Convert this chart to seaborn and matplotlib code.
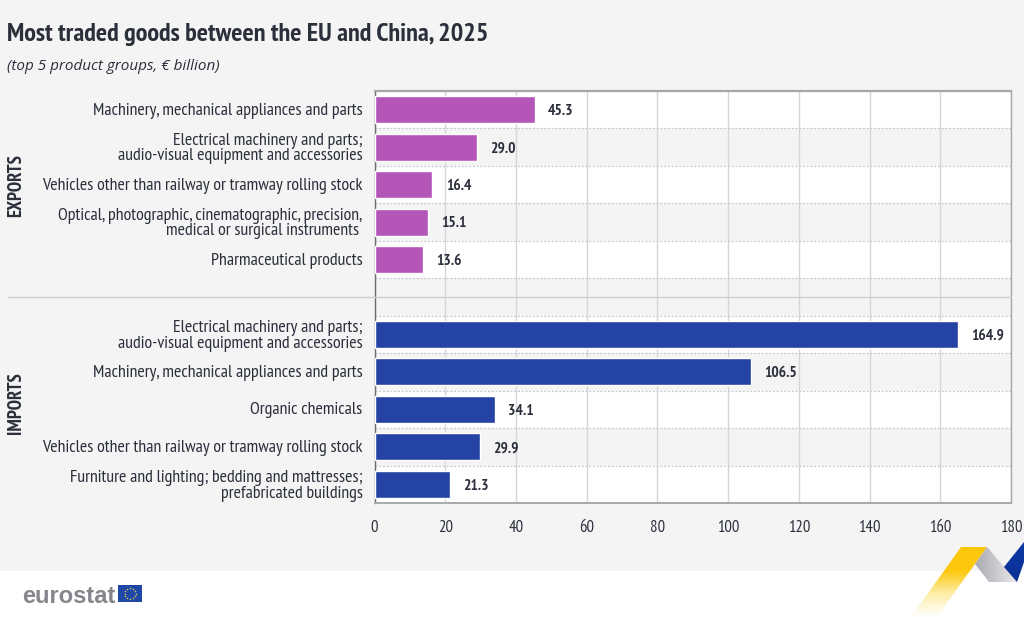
import numpy as np
import pandas as pd
import matplotlib
matplotlib.use('Agg')
import matplotlib.pyplot as plt
from matplotlib import font_manager
from matplotlib.lines import Line2D
from matplotlib.patches import Polygon, Rectangle
from matplotlib.colors import LinearSegmentedColormap
from matplotlib.transforms import ScaledTranslation
import seaborn as sns

# Data
export_labels = ['Machinery, mechanical appliances and parts',
                 'Electrical machinery and parts;\naudio-visual equipment and accessories',
                 'Vehicles other than railway or tramway rolling stock',
                 'Optical, photographic, cinematographic, precision,\nmedical or surgical instruments ',
                 'Pharmaceutical products']
export_values = [45.3, 29.0, 16.4, 15.1, 13.6]
import_labels = ['Electrical machinery and parts;\naudio-visual equipment and accessories',
                 'Machinery, mechanical appliances and parts',
                 'Organic chemicals',
                 'Vehicles other than railway or tramway rolling stock',
                 'Furniture and lighting; bedding and mattresses;\nprefabricated buildings']
import_values = [164.9, 106.5, 34.1, 29.9, 21.3]
x_ticks = [0, 20, 40, 60, 80, 100, 120, 140, 160, 180]

GRIS = '#f4f4f5'
TEXTO = '#2b2f3a'
MORADO = '#b455b8'
AZUL = '#2542a5'

sns.set_theme(style='white')
# Narrow face if there is one, otherwise a plain one set smaller
instaladas = {f.name for f in font_manager.fontManager.ttflist}
ESCALA = 1.0 if 'PT Sans Narrow' in instaladas else 0.8
plt.rcParams['font.family'] = ['PT Sans Narrow', 'Liberation Sans'] if ESCALA == 1.0 else ['Liberation Sans']

# Row 5 stays empty between both blocks
df = pd.DataFrame({
    'row': list(range(5)) + list(range(6, 11)),
    'value': export_values + import_values,
    'flow': ['Exports'] * 5 + ['Imports'] * 5,
})

fig = plt.figure(figsize=(10.24, 6.17), dpi=100, facecolor='white')

# Background and decoration, in pixel coordinates
fondo = fig.add_axes([0, 0, 1, 1], zorder=0)
fondo.set_xlim(0, 1024)
fondo.set_ylim(617, 0)
fondo.axis('off')
fondo.add_patch(Rectangle((0, 0), 1024, 571, color=GRIS, lw=0))


def cinta(puntos, colores, extent, vertical=True):
    # Polygon filled with a gradient
    grad = np.linspace(0, 1, 128).reshape(-1, 1) if vertical else np.linspace(0, 1, 128).reshape(1, -1)
    mapa = LinearSegmentedColormap.from_list('cinta', colores)
    img = fondo.imshow(grad, cmap=mapa, extent=extent, aspect='auto', zorder=2)
    img.set_clip_path(Polygon(puntos, transform=fondo.transData))


cinta([(961, 547), (987, 547), (937, 617), (911, 617)],
      ['#fdc70c', '#fdc70c', '#fdeea8', '#ffffff'], (905, 990, 617, 547))
cinta([(987, 547), (1017, 582), (989, 582), (975, 564)],
      ['#a9a9b0', '#e9e9ec'], (975, 1017, 582, 547), vertical=False)
cinta([(1004, 567), (1024, 542), (1024, 562), (1017, 582)],
      ['#0f3aa8', '#0b2f92'], (1004, 1024, 582, 542))
fondo.set_xlim(0, 1024)
fondo.set_ylim(617, 0)

# Logo
fondo.text(22, 594, 'eurostat', family=['Liberation Sans', 'DejaVu Sans'], weight='bold',
           fontsize=17, color='#85868c', ha='left', va='center_baseline')
fondo.add_patch(Rectangle((118, 585), 24, 17, color='#1f47a6', lw=0, zorder=3))
ang = np.arange(12) * np.pi / 6
fondo.scatter(130 + 5.5 * np.cos(ang), 593.5 + 5.5 * np.sin(ang), s=1.2, color='#d8cf60', lw=0, zorder=4)

# Main chart
ax = fig.add_axes([374.5 / 1024, 1 - 503 / 617, (1011 - 374.5) / 1024, 412 / 617],
                  zorder=1, facecolor='white')
for fila in range(1, 11, 2):
    ax.axhspan(fila - 0.5, fila + 0.5, color=GRIS, lw=0, zorder=0)

sns.barplot(data=df, x='value', y='row', hue='flow', order=list(range(11)), orient='h',
            dodge=False, width=0.72, palette={'Exports': MORADO, 'Imports': AZUL},
            legend=False, saturation=1, zorder=3, ax=ax)

ax.set_xlim(0, 180)
ax.set_ylim(10.5, -0.5)
ax.set_xlabel('')
ax.set_ylabel('')
ax.set_xticks(x_ticks)
ax.set_axisbelow(True)
ax.grid(axis='x', color='#d6d6d8', lw=1, zorder=1)
ax.tick_params(axis='x', length=0, pad=12, labelsize=12 * ESCALA, labelcolor=TEXTO)

# Category labels on major ticks, row boundaries on minor ticks
ax.set_yticks([0, 1, 2, 3, 4, 6, 7, 8, 9, 10])
ax.set_yticklabels(export_labels + import_labels, linespacing=0.94)
ax.set_yticks(np.arange(-0.5, 11), minor=True)
ax.tick_params(axis='y', which='major', length=0, pad=8.5, labelsize=12.9 * ESCALA, labelcolor=TEXTO)
ax.tick_params(axis='y', which='minor', length=8, width=1, color='#8d8d90')
ax.grid(axis='y', which='minor', color='#c8c8cc', lw=0.9, ls=(0, (1.5, 1.5)), zorder=1)
ax.grid(axis='y', which='major', visible=False)

# Single line labels sit a little higher
for etiqueta in ax.get_yticklabels():
    if '\n' not in etiqueta.get_text():
        etiqueta.set_transform(etiqueta.get_transform() + ScaledTranslation(0, 1 / 100, fig.dpi_scale_trans))

for lado in ['top', 'right', 'bottom']:
    ax.spines[lado].set_color('#a8a8aa')
ax.spines['top'].set_linewidth(1.6)
ax.spines['right'].set_linewidth(1)
ax.spines['bottom'].set_linewidth(1.4)
ax.spines['left'].set_color('#6d6d70')
ax.spines['left'].set_linewidth(1)

# Value labels
for fila, valor in zip(df['row'], df['value']):
    ax.annotate(f'{valor:.1f}', (valor, fila), xytext=(9.5, -1), textcoords='offset points',
                ha='left', va='center', fontsize=11.2 * ESCALA, weight='bold', color=TEXTO, zorder=5)

# Separator between the two blocks
fig.add_artist(Line2D([8 / 1024, 1011 / 1024], [1 - 297 / 617] * 2, color='#cfcfd2', lw=1, zorder=5))

# Titles
fig.text(7 / 1024, 1 - 35 / 617, 'Most traded goods between the EU and China, 2025',
         fontsize=18.9 * ESCALA, weight='bold', color=TEXTO, va='center', ha='left')
fig.text(7 / 1024, 1 - 67 / 617, '(top 5 product groups, € billion)',
         family=['Open Sans', 'DejaVu Sans'], fontsize=11, style='italic', color=TEXTO, va='center', ha='left')
fig.text(16 / 1024, 1 - 186 / 617, 'EXPORTS', fontsize=13.5 * ESCALA, weight='bold', rotation=90, color=TEXTO, va='center', ha='center')
fig.text(16 / 1024, 1 - 403 / 617, 'IMPORTS', fontsize=13.5 * ESCALA, weight='bold', rotation=90, color=TEXTO, va='center', ha='center')

plt.savefig('out.png', dpi=100)
